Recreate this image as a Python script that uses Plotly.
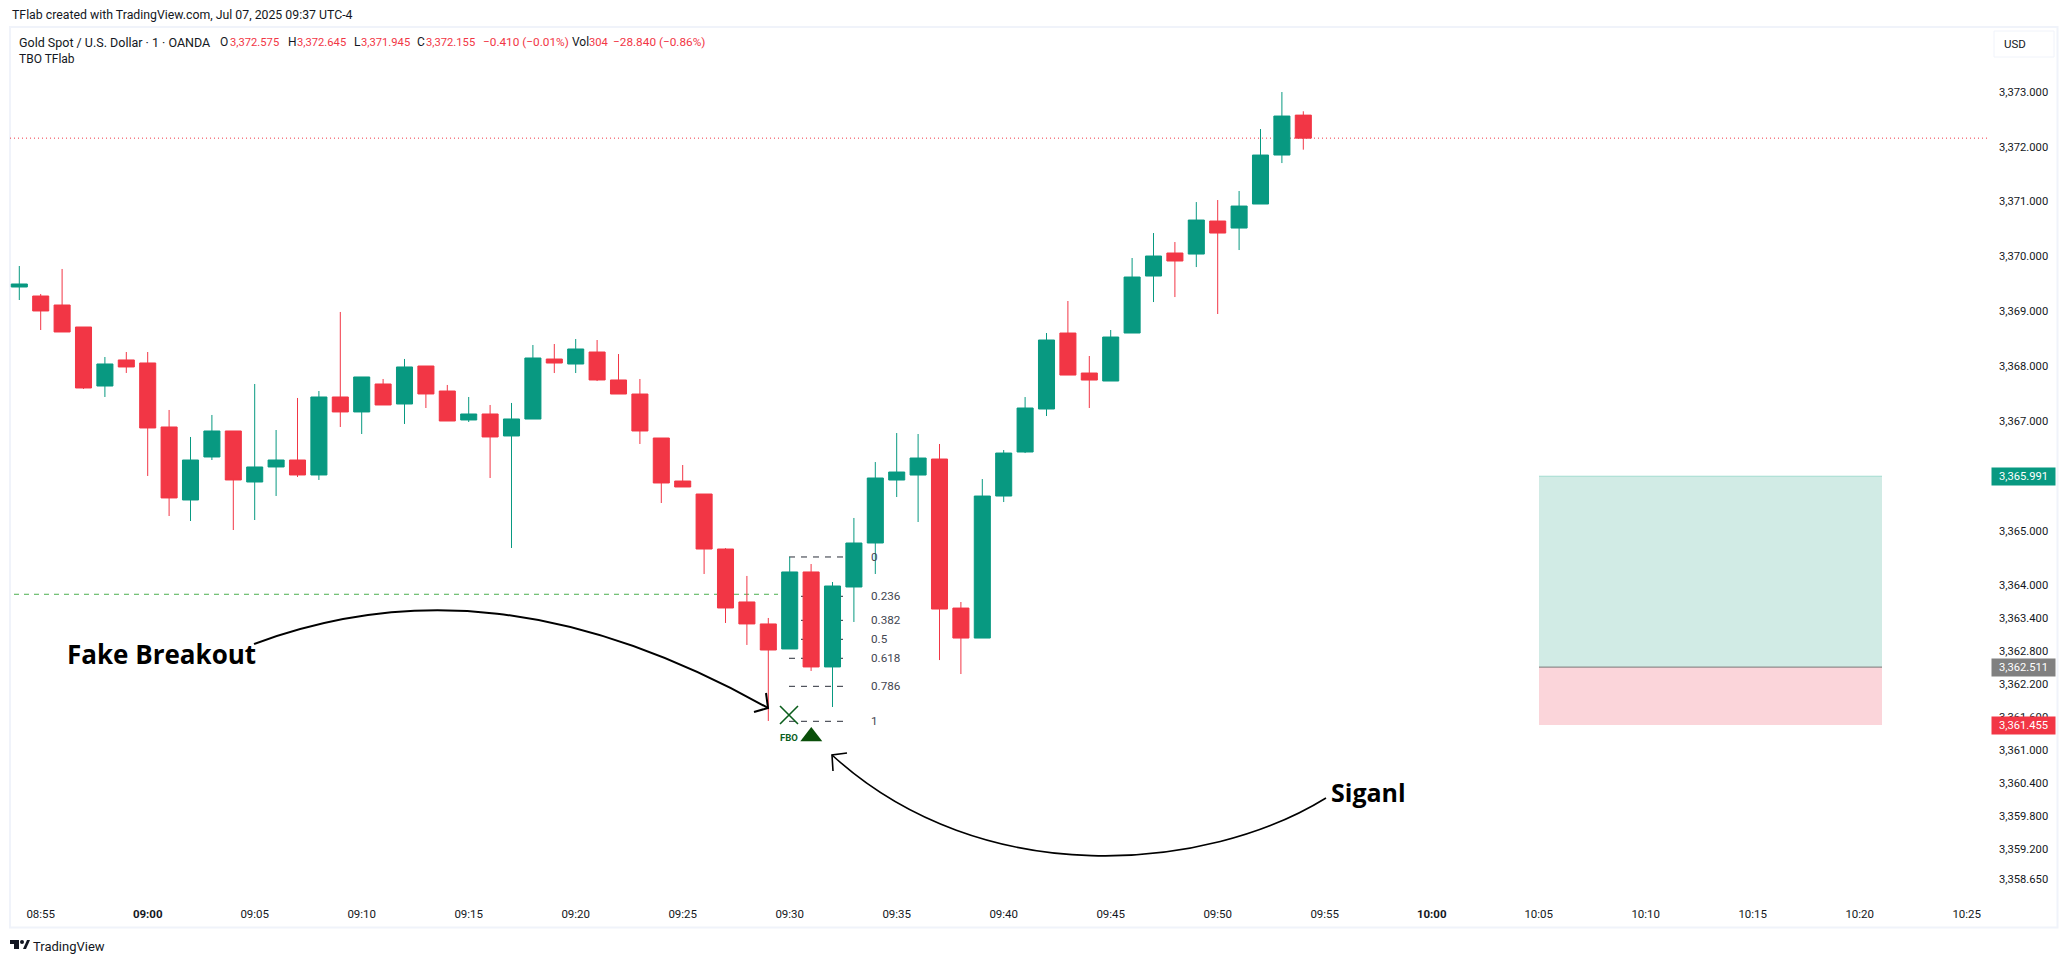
import pandas as pd
import plotly.graph_objects as go

W, H = 2068, 963
GREEN, RED = "#089981", "#F23645"
TEXT = "#131722"
FONT = "Roboto"

start_time = "2025-07-07 08:54"
open_ = [3369.441,3369.277,3369.113,3368.712,3367.636,3368.111,3368.056,3366.889,3365.558,3366.342,
         3366.816,3365.886,3366.160,3366.287,3366.014,3367.436,3367.163,3367.673,3367.308,3368.001,
         3367.545,3367.017,3367.126,3366.725,3367.034,3368.128,3368.037,3368.256,3367.746,3367.490,
         3366.688,3365.904,3365.667,3364.664,3363.699,3363.298,3362.842,3364.246,3362.514,3363.972,
         3364.774,3365.922,3366.013,3366.305,3363.588,3363.041,3365.630,3366.433,3367.217,3368.602,
         3367.873,3367.727,3368.602,3369.641,3370.061,3370.042,3370.644,3370.516,3370.954,3371.847,3372.575]
high = [3369.824,3369.314,3369.770,3368.712,3368.165,3368.256,3368.256,3367.199,3366.707,3367.108,
        3366.816,3367.673,3366.834,3367.418,3367.545,3368.986,3367.801,3367.764,3368.129,3368.001,
        3367.655,3367.436,3367.290,3367.327,3368.384,3368.402,3368.493,3368.475,3368.219,3367.764,
        3366.688,3366.196,3365.667,3364.680,3364.173,3363.407,3364.519,3364.391,3364.063,3365.230,
        3366.250,3366.779,3366.761,3366.579,3363.698,3365.940,3366.469,3367.435,3368.602,3369.186,
        3368.183,3368.657,3369.970,3370.425,3370.261,3370.990,3371.027,3371.191,3372.321,3372.996,3372.645]
low = [3369.204,3368.657,3368.621,3367.582,3367.436,3367.874,3365.996,3365.266,3365.175,3366.287,
       3365.011,3365.193,3365.631,3365.977,3365.923,3366.889,3366.761,3367.290,3366.944,3367.235,
       3366.998,3366.980,3365.959,3364.683,3367.034,3367.873,3367.873,3367.727,3367.490,3366.579,
       3365.503,3365.795,3364.209,3363.316,3362.915,3361.529,3362.842,3362.441,3361.784,3363.334,
       3364.209,3365.612,3365.157,3362.640,3362.385,3363.041,3365.521,3366.414,3367.089,3367.836,
       3367.235,3367.727,3368.602,3369.167,3369.258,3369.805,3368.949,3370.115,3370.954,3371.701,3371.945]
close = [3369.496,3369.004,3368.621,3367.600,3368.038,3367.983,3366.871,3365.595,3366.287,3366.816,
         3365.923,3366.160,3366.287,3366.014,3367.436,3367.163,3367.801,3367.290,3367.983,3367.491,
         3366.998,3367.126,3366.707,3367.035,3368.147,3368.055,3368.311,3367.746,3367.490,3366.816,
         3365.868,3365.795,3364.664,3363.589,3363.298,3362.823,3364.246,3362.514,3363.990,3364.774,
         3365.959,3366.068,3366.323,3363.570,3363.041,3365.630,3366.414,3367.235,3368.475,3367.836,
         3367.745,3368.529,3369.623,3370.006,3369.915,3370.662,3370.425,3370.917,3371.847,3372.558,3372.155]

y_ticks = [3373,3372,3371,3370,3369,3368,3367,3365,3364,3363.4,3362.8,3362.2,3361.6,3361,3360.4,3359.8,3359.2,3358.65]
x_tick_labels = ["08:55","09:00","09:05","09:10","09:15","09:20","09:25","09:30","09:35","09:40",
                 "09:45","09:50","09:55","10:00","10:05","10:10","10:15","10:20","10:25"]
bold_ticks = ["09:00", "10:00"]

fib_levels = [3364.519,3363.802,3363.364,3363.018,3362.672,3362.161,3361.523]
fib_labels = ["0","0.236","0.382","0.5","0.618","0.786","1"]
breakout_level = 3363.839
last_close = 3372.155
target, entry, stop = 3365.991, 3362.511, 3361.455

# pixel calibration of the picture -> axis ranges
PX_PER_MIN, PX_FIRST = 21.4, 19.3
PX_PER_USD, PX_3373 = 54.85, 91.8
L, R, T, B = 10, 1990, 27, 895
t0 = pd.Timestamp(start_time)
def tm(minutes):
    return (t0 + pd.Timedelta(minutes=minutes)).strftime("%Y-%m-%d %H:%M:%S.%f")[:-3]
def tpx(px):
    return tm((px - PX_FIRST) / PX_PER_MIN)
def at(hhmm):
    return "2025-07-07 " + hhmm
def vpx(py):
    return 3373 - (py - PX_3373) / PX_PER_USD
def fx(px): return px / W
def fy(py): return 1 - py / H

times = [tm(i) for i in range(len(open_))]

fig = go.Figure()
fig.add_trace(go.Candlestick(
    x=times, open=open_, high=high, low=low, close=close,
    increasing=dict(line=dict(color=GREEN, width=1), fillcolor=GREEN),
    decreasing=dict(line=dict(color=RED, width=1), fillcolor=RED),
    whiskerwidth=0))
fig.add_trace(go.Scatter(x=[tpx(789)], y=[vpx(715)], mode="markers",
                         marker=dict(symbol="x-thin", size=18, line=dict(color="#0B5E1C", width=1.6)),
                         hoverinfo="skip"))
fig.add_trace(go.Scatter(x=[tpx(811.3)], y=[vpx(736.5)], mode="markers",
                         marker=dict(symbol="triangle-up", size=19, color="#0A4F0A"),
                         hoverinfo="skip"))

def level(x0, x1, value, color, dash=None):
    return dict(type="line", xref="x", yref="y", x0=x0, x1=x1, y0=value, y1=value,
                line=dict(color=color, width=1, dash=dash or "solid"), layer="below")

shapes = [
    dict(type="rect", xref="x", yref="y", x0=tpx(1539), x1=tpx(1882), y0=entry, y1=target,
         fillcolor="#D1EBE5", line_width=0, layer="below"),
    dict(type="rect", xref="x", yref="y", x0=tpx(1539), x1=tpx(1882), y0=stop, y1=entry,
         fillcolor="#FBD5DA", line_width=0, layer="below"),
    level(tpx(1539), tpx(1882), target, "#A3DCD0"),
    level(tpx(1539), tpx(1882), entry, "#787878"),
    level(tpx(14), tpx(778), breakout_level, "#4CAF50", "5px,5px"),
    level(tpx(L), tpx(1988), last_close, RED, "1px,3px"),
    # outer frame
    dict(type="rect", xref="paper", yref="paper", x0=fx(10), x1=fx(2057.5), y0=fy(27), y1=fy(927.5),
         line=dict(color="#F0F3FA", width=2), layer="below"),
    # currency box
    dict(type="rect", xref="paper", yref="paper", x0=fx(1994), x1=fx(2054), y0=fy(31), y1=fy(57),
         line=dict(color="#F0F3FA", width=1), fillcolor="white"),
]
shapes += [level(tpx(789), tpx(849), lv, "#2A2E39", "6px,6px") for lv in fib_levels]

def arrow_path(p0, c1, c2, p3):
    return (f"M {fx(p0[0])} {fy(p0[1])} C {fx(c1[0])} {fy(c1[1])} {fx(c2[0])} {fy(c2[1])} "
            f"{fx(p3[0])} {fy(p3[1])}")
def poly(points, closed=False):
    s = "M " + " L ".join(f"{fx(x)} {fy(y)}" for x, y in points)
    return s + (" Z" if closed else "")

for path, w in [
    (arrow_path((254,644),(410,586),(575,600),(768,708)), 2),
    (poly([(766,693),(768,708),(754,712)]), 2),
    (arrow_path((1326,798),(1208,871),(983,893),(832,755)), 1.6),
    (poly([(847,753),(832,755),(833,771)]), 1.6),
]:
    shapes.append(dict(type="path", xref="paper", yref="paper", path=path,
                       line=dict(color="#000000", width=w)))
# TradingView logo
for pts in [[(10,940),(19,940),(19,949),(14,949),(14,944),(10,944)],
            [(23,949),(27,940),(30,940),(26,949)],
            ]:
    shapes.append(dict(type="path", xref="paper", yref="paper", path=poly(pts, True),
                       fillcolor=TEXT, line_width=0))
shapes.append(dict(type="circle", xref="paper", yref="paper", x0=fx(20), x1=fx(24), y0=fy(940), y1=fy(944),
                   fillcolor=TEXT, line_width=0))

def txt(px, py, text, size=12, color=TEXT, anchor="left", family=FONT):
    return dict(xref="paper", yref="paper", x=fx(px), y=fy(py), text=text, showarrow=False,
                xanchor=anchor, yanchor="middle", font=dict(size=size, color=color, family=family))

ann = [
    txt(10, 15, "TFlab created with TradingView.com, Jul 07, 2025 09:37 UTC-4", 12.3),
    txt(17, 42, "Gold Spot / U.S. Dollar · 1 · OANDA", 12.5),
    txt(17, 59, "TBO TFlab", 12),
    txt(2002, 44, "USD", 11.5),
    txt(31, 946, "TradingView", 13),
    txt(65, 654, "<b>Fake Breakout</b>", 26, "#000000", family="Open Sans"),
    txt(1329, 792, "<b>Siganl</b>", 25, "#000000", family="Open Sans"),
    txt(789, 737, "<b>FBO</b>", 9.5, "#0B5E1C", "center"),
]
legend_items = [(218,"O",TEXT,12),(228,"3,372.575",RED,11.2),(286,"H",TEXT,12),(295,"3,372.645",RED,11.2),
                (352,"L",TEXT,12),(359,"3,371.945",RED,11.2),(415,"C",TEXT,12),(424,"3,372.155",RED,11.2),
                (481,"−0.410 (−0.01%)",RED,11.8),(570,"Vol",TEXT,12),(587,"304",RED,11.2),
                (611,"−28.840 (−0.86%)",RED,11.8)]
ann += [txt(px, 42, s, z, c) for px, s, c, z in legend_items]
ann += [dict(xref="paper", yref="y", x=fx(869), y=lv, text=s, showarrow=False, xanchor="left",
             yanchor="middle", font=dict(size=11.7, color="#434651", family=FONT))
        for lv, s in zip(fib_levels, fib_labels)]
# price tags
for lv, s, c in [(target,"3,365.991",GREEN),(entry,"3,362.511","#808080"),(stop,"3,361.455",RED)]:
    ann.append(dict(xref="paper", yref="y", x=fx(1991), y=lv, text=s, showarrow=False, xanchor="left",
                    yanchor="middle", width=63, height=17, align="center", bgcolor=c, borderpad=0,
                    font=dict(size=11.2, color="white", family=FONT)))

fig.update_layout(
    width=W, height=H, margin=dict(l=0, r=0, t=0, b=0, pad=0), autosize=False,
    paper_bgcolor="white", plot_bgcolor="rgba(0,0,0,0)", showlegend=False, hovermode=False,
    boxgap=0.25, boxgroupgap=0, shapes=shapes, annotations=ann,
    font=dict(family=FONT, size=12, color=TEXT),
    xaxis=dict(domain=[fx(L), fx(R)], range=[tpx(L), tpx(R)], type="date", rangeslider=dict(visible=False),
               showgrid=False, zeroline=False, showline=False, ticks="",
               tickmode="array", tickvals=[at(s) for s in x_tick_labels],
               ticktext=[f"<b>{s}</b>" if s in bold_ticks else s for s in x_tick_labels],
               ticklabelstandoff=10, tickfont=dict(size=11.5, color=TEXT, family=FONT)),
    yaxis=dict(domain=[fy(B), fy(T)], range=[vpx(B), vpx(T)], side="right", showgrid=False, zeroline=False,
               showline=False, ticks="", tickmode="array", tickvals=y_ticks,
               ticktext=[f"{v:,.3f}" for v in y_ticks], ticklabelstandoff=8,
               tickfont=dict(size=11.2, color=TEXT, family=FONT)),
)

fig.write_html("out.html", config=dict(displayModeBar=False),
               post_script="document.body.style.margin='0';document.body.style.overflow='hidden';")
